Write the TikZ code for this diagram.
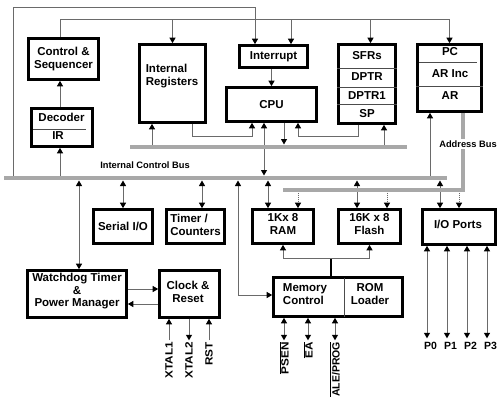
\documentclass[tikz,border=0pt]{standalone}
\usepackage{fontspec}
\setmainfont{Liberation Sans}
\usetikzlibrary{arrows.meta,calc}
\definecolor{busgray}{HTML}{A8A8A8}
\definecolor{lgray}{HTML}{6A6A6A}
\begin{document}
\begin{tikzpicture}[x=1pt,y=-1pt,
  >={Triangle[length=5.5pt,width=6pt,color=black]},
  box/.style={draw=black,line width=2.6pt,inner sep=0pt,align=center,
    font=\fontsize{11.5}{13}\selectfont\bfseries},
  txt/.style={inner sep=0pt,align=center,font=\fontsize{11.5}{13}\selectfont\bfseries},
  small/.style={inner sep=0pt,font=\fontsize{9.3}{11}\selectfont\bfseries},
  pin/.style={inner sep=1.5pt,font=\fontsize{10.5}{12}\selectfont\bfseries},
  bus/.style={draw=busgray,line width=4.5pt},
  conn/.style={draw=lgray,line width=1pt},
  div/.style={draw=black!70,line width=0.8pt},
  dotc/.style={draw=lgray,line width=1pt,densely dotted}]
\useasboundingbox (0,0) rectangle (500,402);

% level coordinates
\coordinate (mb) at (0,178);
\coordinate (mbT) at (0,175.5);
\coordinate (mbB) at (0,180.5);
\coordinate (ub) at (0,147);
\coordinate (ubT) at (0,144.5);
\coordinate (ubB) at (0,149.5);
\coordinate (ab) at (0,190);
\coordinate (abB) at (0,192.5);
\coordinate (low) at (0,136);
\coordinate (pinend) at (0,338);

% boxes
\node[box,minimum width=70pt,minimum height=41pt] (cs) at (63.5,59) {Control \&\\Sequencer};
\node[box,minimum width=61pt,minimum height=38pt] (dec) at (62,127.5) {};
\node[txt] (dect) at (61.5,117) {Decoder};
\node[txt] (irt) at (58,136) {IR};
\draw[div] (33,129) -- (86,129);
\node[box,minimum width=66pt,minimum height=78pt] (ireg) at (172.5,83.5) {};
\node[txt,align=left] (iregt) at (172,76) {Internal\\Registers};
\node[box,minimum width=68pt,minimum height=22pt] (intr) at (273.5,56.5) {Interrupt};
\node[box,minimum width=90pt,minimum height=34pt] (cpu) at (271.5,104.5) {CPU};
\node[box,minimum width=57pt,minimum height=79pt] (sfr) at (367,84) {};
\node[txt] at (367,56) {SFRs};
\node[txt] at (367,77) {DPTR};
\node[txt] at (367,96) {DPTR1};
\node[txt] at (367,114) {SP};
\draw[div] (sfr.west |- 0,68) -- (sfr.east |- 0,68);
\draw[div] (sfr.west |- 0,87) -- (sfr.east |- 0,87);
\draw[div] (sfr.west |- 0,104) -- (sfr.east |- 0,104);
\node[box,minimum width=64pt,minimum height=67pt] (pc) at (449.5,78) {};
\node[txt] at (450,52) {PC};
\node[txt] at (450,74) {AR Inc};
\node[txt] at (450,96) {AR};
\draw[div] (419,62) -- (477,62);
\draw[div] (pc.west |- 0,86) -- (pc.east |- 0,86);

\node[box,minimum width=59pt,minimum height=34pt] (ser) at (123,226.5) {Serial I/O};
\node[box,minimum width=58pt,minimum height=34pt] (tim) at (195.5,226.5) {};
\node[txt,align=left] at (195.5,224.5) {Timer /\\Counters};
\node[box,minimum width=61pt,minimum height=34pt] (ram) at (283,226.5) {};
\node[txt] at (283,224) {1Kx 8\\RAM};
\node[box,minimum width=62pt,minimum height=34pt] (fla) at (369.5,226.5) {};
\node[txt] at (369.5,224) {16K x 8\\Flash};
\node[box,minimum width=73pt,minimum height=35pt] (iop) at (459,227) {};
\node[txt] at (458,224) {I/O Ports};
\node[box,minimum width=99pt,minimum height=47pt] (wdt) at (77,294) {};
\node[txt,font=\fontsize{11.5}{12.5}\selectfont\bfseries] at (77,291.5) {Watchdog Timer\\\&\\Power Manager};
\node[box,minimum width=60pt,minimum height=47pt] (clk) at (189.5,294) {};
\node[txt] at (188,291.5) {Clock \&\\Reset};
\node[box,minimum width=129pt,minimum height=39pt] (mem) at (338,297) {};
\draw[div] (344,277.5) -- (344,316.5);
\node[txt,align=left] at (305,294) {Memory\\Control};
\node[txt] at (370,294) {ROM\\Loader};

% labels
\node[small] (icb) at (145,165) {Internal Control Bus};

% top connectors
\coordinate (ol) at (13,178);
\coordinate (olc) at (13,7);
\coordinate (intrA) at ([xshift=-18.5pt]intr.north);
\draw[conn,->] (ol) -- (olc) -| (intrA);
\coordinate (tl) at (60,19);
\coordinate (tr) at (449.5,19);
\draw[conn] (cs.north -| tl) -- (tl) -- (tr);
\draw[conn,->] (tr) -- (pc.north);
\draw[conn,->] (ireg.north |- tl) -- (ireg.north);
\coordinate (intrB) at ([xshift=17.5pt]intr.north);
\draw[conn,->] (intrB |- tl) -- (intrB);
\coordinate (sfrT) at ([xshift=3.5pt]sfr.north);
\draw[conn,->] (sfrT |- tl) -- (sfrT);

% decoder / control
\draw[conn,->] (dec.north -| tl) -- (cs.south -| tl);
\draw[conn,->] (tl |- mb) -- (dec.south -| tl);

% around CPU
\coordinate (iregA) at ([xshift=-20.5pt]ireg.south);
\draw[conn,->] (iregA |- ub) -- (iregA);
\coordinate (iregB) at ([xshift=19.5pt]ireg.south);
\coordinate (cpuA) at ([xshift=-19.5pt]cpu.south);
\draw[conn,->] (iregB) -- (iregB |- low) -| (cpuA);
\coordinate (cpuB) at ([xshift=-7.5pt]cpu.south);
\draw[conn,<->] (cpuB) -- (cpuB |- mbT);
\coordinate (cpuC) at ([xshift=12.5pt]cpu.south);
\draw[conn,->] (cpuC) -- (cpuC |- ubT);
\coordinate (sfrA) at ([xshift=-9pt]sfr.south);
\coordinate (cpuD) at ([xshift=26.5pt]cpu.south);
\draw[conn,->] (sfrA) -- (sfrA |- low) -| (cpuD);
\coordinate (sfrB) at ([xshift=17pt]sfr.south);
\draw[conn,->] (sfrB |- ub) -- (sfrB);
\draw[conn,->] (intr.south -| cpu.north) -- (cpu.north);
\coordinate (pcA) at ([xshift=-19.5pt]pc.south);
\draw[conn,->] (pcA |- mb) -- (pcA);

% lower connectors
\coordinate (wdtA) at ([xshift=2pt]wdt.north);
\draw[conn,<->] (wdtA |- mbB) -- (wdtA);
\draw[conn,<->] (ser.north |- mbB) -- (ser.north);
\coordinate (timA) at ([xshift=6.5pt]tim.north);
\draw[conn,<->] (timA |- mbB) -- (timA);
\coordinate (memA) at ([yshift=2pt]mem.west);
\coordinate (mx) at (238,0);
\draw[conn,<->] (mx |- mbB) |- (memA);
\coordinate (ramA) at ([xshift=-15pt]ram.north);
\draw[conn,<->] (ramA |- mbB) -- (ramA);
\coordinate (flaA) at ([xshift=-12.5pt]fla.north);
\draw[conn,<->] (flaA |- mbB) -- (flaA);
\coordinate (iopA) at ([xshift=-19pt]iop.north);
\draw[conn,<->] (iopA |- mbB) -- (iopA);
\coordinate (ramB) at ([xshift=15pt]ram.north);
\draw[dotc,->] (ramB |- abB) -- (ramB);
\coordinate (flaB) at ([xshift=17.5pt]fla.north);
\draw[dotc,->] (flaB |- abB) -- (flaB);
\draw[dotc,->] (iop.north |- abB) -- (iop.north);

\draw[conn,->] ([yshift=5pt]wdt.east) -- ([yshift=5pt]clk.west);
\draw[conn,->] ([yshift=-10pt]clk.west) -- ([yshift=-10pt]wdt.east);

% memory links
\coordinate (memB) at ([xshift=-7pt]mem.north);
\coordinate (jy) at (0,258);
\draw[black,line width=1.5pt] (memB) -- (memB |- jy);
\draw[conn,->] (memB |- jy) -| (ram.south);
\draw[conn,->] (memB |- jy) -| (fla.south);

% clock pins
\coordinate (x1) at ([xshift=-20.5pt]clk.south);
\coordinate (x2) at ([xshift=-0.5pt]clk.south);
\coordinate (x3) at ([xshift=19.5pt]clk.south);
\node[pin,rotate=90,anchor=east] (lx1) at ([yshift=-21.5pt]x1) {\scalebox{1.12}[1]{XTAL1}};
\node[pin,rotate=90,anchor=east] (lx2) at ([yshift=-21.5pt]x2) {\scalebox{1.12}[1]{XTAL2}};
\node[pin,rotate=90,anchor=east] (lrst) at ([yshift=-21.5pt]x3) {\scalebox{1.12}[1]{RST}};
\draw[conn,->] (lx1) -- (x1);
\draw[conn,->] (x2) -- (lx2);
\draw[conn,->] (lrst) -- (x3);

% memory pins
\coordinate (m1) at ([xshift=-54pt]mem.south);
\coordinate (m2) at ([xshift=-30pt]mem.south);
\coordinate (m3) at ([xshift=-3pt]mem.south);
\node[pin,rotate=90,anchor=east] (lpsen) at ([yshift=-22.5pt]m1) {\scalebox{1.12}[1]{$\overline{\mbox{PSEN}}$}};
\node[pin,rotate=90,anchor=east] (lea) at ([yshift=-22.5pt]m2) {\scalebox{1.12}[1]{$\overline{\mbox{EA}}$}};
\node[pin,rotate=90,anchor=east] (lale) at ([yshift=-22.5pt]m3) {$\overline{\mbox{ALE/PROG}}$};
\draw[conn,<->] (m1) -- (lpsen);
\draw[conn,<->] (m2) -- (lea);
\draw[conn,<->] (m3) -- (lale);

% port pins
\foreach \i/\dx in {0/-32,1/-12,2/8,3/28}{
  \coordinate (pp\i) at ([xshift=\dx pt]iop.south);
  \coordinate (pe\i) at ([yshift=-92.5pt]pp\i);
  \node[pin,anchor=north west,inner sep=0pt] (lp\i) at ([xshift=-3pt,yshift=-4pt]pe\i) {P\i};
  \draw[conn,<->] (pp\i) -- (pe\i);
}

% buses
\draw[bus] (4,178) -- (447,178);
\draw[bus] (130,147) -- (407,147);
\coordinate (pcB) at ([xshift=13.5pt]pc.south);
\coordinate (abW) at (283,190);
\draw[bus] (pcB) -- (pcB |- ab) -- (abW);
\node[small,fill=white,inner sep=2pt] (abl) at (468,144) {Address Bus};
\end{tikzpicture}
\end{document}
